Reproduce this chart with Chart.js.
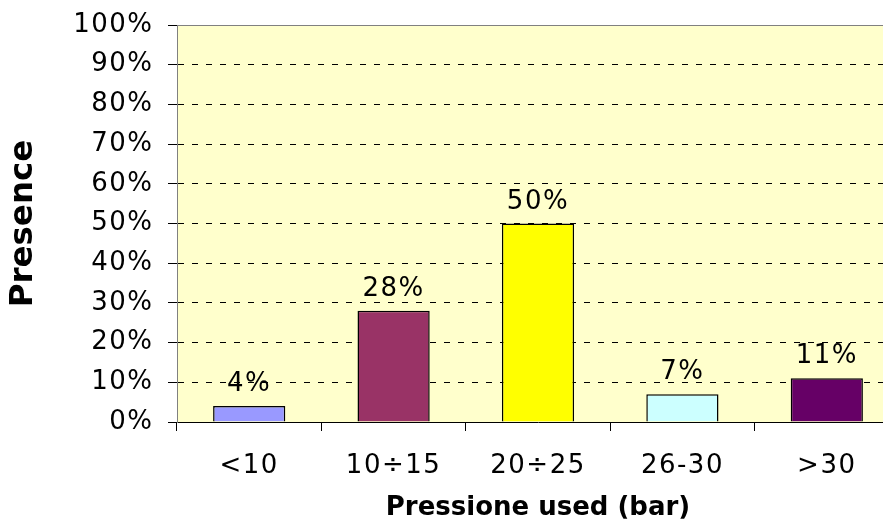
<!DOCTYPE html>
<html>
<head>
<meta charset="utf-8">
<script src="https://cdn.jsdelivr.net/npm/chart.js@4"></script>
<style>
  html, body { margin: 0; padding: 0; overflow: hidden; background: #ffffff; }
  canvas { display: block; }
</style>
</head>
<body>
<canvas id="chart" width="900" height="519"></canvas>
<script>
// Pressure ranges and share of presence (%)
const categories = ['<10', '10÷15', '20÷25', '26-30', '>30'];
const presence = [4, 28, 50, 7, 11];
const barColors = ['#9999FF', '#993366', '#FFFF00', '#CCFFFF', '#660066'];
const yMin = 0;
const yMax = 100;
const yStep = 10;

const FONT = 'DejaVu Sans, Verdana, sans-serif';
const LABEL_SPACING = '1.5px';

// Pale plot background plus the grey frame line along the top edge
const plotFrame = {
  id: 'plotFrame',
  beforeDraw(chart) {
    const { ctx, chartArea: a } = chart;
    ctx.letterSpacing = '0px';
    ctx.save();
    ctx.fillStyle = '#FFFFCC';
    ctx.fillRect(a.left, a.top, a.right - a.left, a.bottom - a.top);
    ctx.restore();
  },
  afterDraw(chart) {
    const { ctx, chartArea: a } = chart;
    ctx.letterSpacing = '0px';
    ctx.save();
    ctx.strokeStyle = '#808080';
    ctx.lineWidth = 1;
    ctx.beginPath();
    ctx.moveTo(a.left, Math.round(a.top) + 0.5);
    ctx.lineTo(a.right, Math.round(a.top) + 0.5);
    ctx.stroke();
    ctx.restore();
  }
};

// Percent value written above each bar; the wider letter spacing is then
// left in place for the tick labels, which are drawn on a later layer
const valueLabels = {
  id: 'valueLabels',
  afterDatasetsDraw(chart) {
    const { ctx } = chart;
    const meta = chart.getDatasetMeta(0);
    ctx.save();
    ctx.letterSpacing = LABEL_SPACING;
    ctx.font = '26px ' + FONT;
    ctx.fillStyle = '#000000';
    ctx.textAlign = 'center';
    ctx.textBaseline = 'alphabetic';
    meta.data.forEach((bar, i) => {
      ctx.fillText(presence[i] + '%', bar.x, bar.y - 15);
    });
    ctx.restore();
    ctx.letterSpacing = LABEL_SPACING;
  }
};

new Chart(document.getElementById('chart'), {
  type: 'bar',
  data: {
    labels: categories,
    datasets: [{
      data: presence,
      backgroundColor: barColors,
      borderColor: '#000000',
      borderWidth: 1.5,
      barPercentage: 0.5,
      categoryPercentage: 1.0
    }]
  },
  options: {
    responsive: false,
    animation: false,
    devicePixelRatio: 1,
    layout: { padding: { top: 25, right: 1, bottom: 0, left: 0 } },
    plugins: {
      legend: { display: false },
      tooltip: { enabled: false }
    },
    scales: {
      x: {
        offset: true,
        grid: {
          drawOnChartArea: false,
          offset: true,
          tickLength: 9,
          tickColor: '#000000',
          tickWidth: 1
        },
        border: { color: '#000000', width: 1 },
        ticks: {
          z: 1,
          color: '#000000',
          padding: 20,
          font: { family: FONT, size: 26 },
          maxRotation: 0,
          autoSkip: false
        },
        title: {
          display: true,
          text: 'Pressione used (bar)',
          color: '#000000',
          font: { family: FONT, size: 26, weight: 'bold' },
          padding: { top: 0, bottom: -5 }
        },
        afterFit(scale) {
          scale.height = 97;
          scale.paddingLeft = 0;
          scale.paddingRight = 0;
        }
      },
      y: {
        min: yMin,
        max: yMax,
        grid: {
          color: (c) => (c.tick && (c.tick.value === yMin || c.tick.value === yMax)) ? 'rgba(0,0,0,0)' : '#000000',
          lineWidth: 1,
          tickLength: 9,
          tickColor: '#000000',
          tickWidth: 1
        },
        border: { color: '#808080', width: 1, dash: [6, 8] },
        ticks: {
          z: 1,
          stepSize: yStep,
          color: '#000000',
          padding: 14.5,
          font: { family: FONT, size: 26 },
          callback: (v) => v + '%'
        },
        title: {
          display: true,
          text: 'Presence',
          color: '#000000',
          font: { family: FONT, size: 32.5, weight: 'bold' },
          padding: { top: 4, bottom: 0 }
        },
        afterFit(scale) {
          scale.width = 177;
          scale.paddingTop = 0;
          scale.paddingBottom = 0;
        }
      }
    }
  },
  plugins: [plotFrame, valueLabels]
});
</script>
</body>
</html>
